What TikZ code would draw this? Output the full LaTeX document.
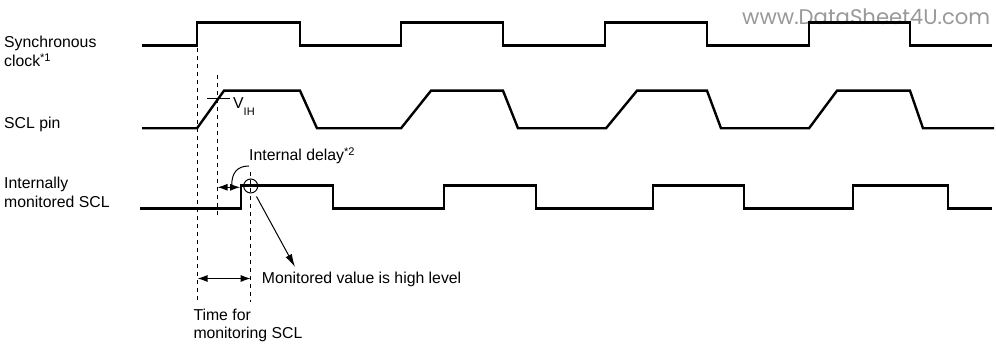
\documentclass[tikz,border=0pt]{standalone}
\usepackage{fontspec}
\setmainfont{Liberation Sans}
\newfontfamily\wmfont{Poppins}
\usetikzlibrary{arrows.meta}
\tikzset{
  sig/.style={line width=2.4pt, line join=miter},
  guide/.style={line width=0.9pt, dash pattern=on 4.5pt off 3.5pt},
  lbl/.style={anchor=base west, inner sep=0pt, font=\fontsize{15.8}{19}\selectfont},
  dim/.style={line width=1.1pt, {Latex[length=10pt,width=7pt]}-{Latex[length=10pt,width=7pt]}},
  pointer/.style={line width=1pt, -{Latex[length=13pt,width=7pt]}},
  thin/.style={line width=1pt}
}
\begin{document}
\begin{tikzpicture}[x=1pt,y=-1pt]
\useasboundingbox (0,0) rectangle (996,344);
% watermark
\node[anchor=base west, inner sep=0pt, text=black!40] (wm) at (742,25) {\resizebox{248pt}{!}{\wmfont www.DataSheet4U.com}};
% labels
\node[lbl] (l1a) at (4,48) {Synchronous};
\node[lbl] (l1b) at (4,67) {clock\textsuperscript{*1}};
\node[lbl] (l2) at (4,129) {SCL pin};
\node[lbl] (l3a) at (4,189) {Internally};
\node[lbl] (l3b) at (4,207.5) {monitored SCL};
% synchronous clock
\draw[sig] (142,45.5) -- (197,45.5) -- (197,22.5) -- (300,22.5) -- (300,45.5)
  -- (401,45.5) -- (401,22.5) -- (503,22.5) -- (503,45.5)
  -- (605,45.5) -- (605,22.5) -- (707,22.5) -- (707,45.5)
  -- (809,45.5) -- (809,22.5) -- (910,22.5) -- (910,45.5) -- (992,45.5);
% SCL pin
\draw[sig] (142,128.3) -- (197,128.3) -- (224,90.7) -- (300,90.7) -- (317,128.3)
  -- (401,128.3) -- (431,90.7) -- (503,90.7) -- (518,128.3)
  -- (606,128.3) -- (637,90.7) -- (707,90.7) -- (721,128.3)
  -- (809,128.3) -- (837,90.7) -- (910,90.7) -- (923,128.3) -- (994,128.3);
% internally monitored SCL
\draw[sig] (140,208.5) -- (240.7,208.5) -- (240.7,185.5) -- (332.7,185.5) -- (332.7,208.5)
  -- (444,208.5) -- (444,185.5) -- (536,185.5) -- (536,208.5)
  -- (653,208.5) -- (653,185.5) -- (744,185.5) -- (744,208.5)
  -- (853,208.5) -- (853,185.5) -- (948,185.5) -- (948,208.5) -- (992,208.5);
% guide lines
\coordinate (d1t) at (197.5,48);
\coordinate (d1b) at (197.5,302);
\coordinate (d2t) at (217.5,75);
\coordinate (d2b) at (217.5,218);
\coordinate (d3t) at (250.7,172);
\coordinate (d3b) at (250.7,302);
\draw[guide] (d1t) -- (d1b);
\draw[guide] (d2t) -- (d2b);
\draw[guide] (d3t) -- (d3b);
% VIH
\coordinate (vl) at (207,99);
\coordinate (vr) at (230,99);
\draw[thin] (vl) -- (vr);
\node[anchor=base west, inner sep=0pt, font=\fontsize{15.8}{19}\selectfont] (vih) at (233,108.5) {V\raisebox{-7pt}{\fontsize{11}{12}\selectfont IH}};
% internal delay
\coordinate (da) at (217.5,187.3);
\coordinate (db) at (240.2,187.3);
\draw[dim] (da) -- (db);
\node[draw, circle, thin, minimum size=14pt, inner sep=0pt] (ring) at (250.7,186) {};
\coordinate (arcs) at (231.7,185.5);
\coordinate (arce) at (249,166);
\draw[thin] (arcs) .. controls (231.7,173) and (237,166) .. (arce);
\node[lbl] (idl) at (249,160.5) {Internal delay\textsuperscript{*2}};
% monitored value
\coordinate (mvs) at (256.5,196.5);
\coordinate (mve) at (295,267);
\draw[pointer] (mvs) -- (mve);
\node[lbl] (mv) at (261.7,284) {Monitored value is high level};
% time for monitoring
\coordinate (ta) at (197.5,278.5);
\coordinate (tb) at (250.7,278.5);
\draw[dim] (ta) -- (tb);
\node[lbl] (t1) at (193.3,320.5) {Time for};
\node[lbl] (t2) at (193.3,339) {monitoring SCL};
\end{tikzpicture}
\end{document}
